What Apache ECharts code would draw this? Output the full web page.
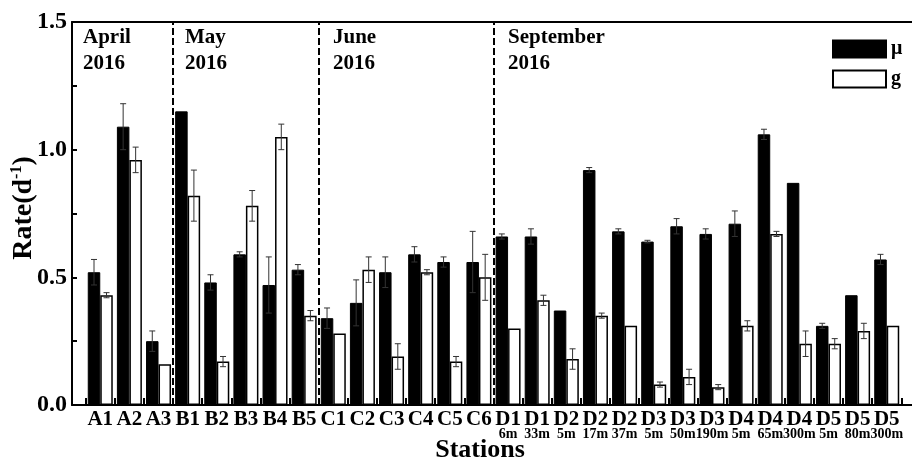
<!DOCTYPE html>
<html>
<head>
<meta charset="utf-8">
<script src="https://cdn.jsdelivr.net/npm/echarts@6/dist/echarts.min.js"></script>
<style>
  html, body { margin: 0; padding: 0; background: #fff; }
  #chart { width: 912px; height: 460px; }
</style>
</head>
<body>
<div id="chart"></div>
<script>
// Station names and sampling depths
const stations = ['A1','A2','A3','B1','B2','B3','B4','B5','C1','C2','C3','C4','C5','C6',
  'D1','D1','D2','D2','D2','D3','D3','D3','D4','D4','D4','D5','D5','D5'];
const depths = ['','','','','','','','','','','','','','',
  '6m','33m','5m','17m','37m','5m','50m','190m','5m','65m','300m','5m','80m','300m'];

// Growth rate (μ) and grazing rate (g), d^-1, with standard deviations
const muRate = [0.52,1.09,0.25,1.15,0.48,0.59,0.47,0.53,0.34,0.40,0.52,0.59,0.56,0.56,
  0.66,0.66,0.37,0.92,0.68,0.64,0.70,0.67,0.71,1.06,0.87,0.31,0.43,0.57];
const muErr = [0.05,0.09,0.04,0,0.03,0.01,0.11,0.02,0.04,0.09,0.06,0.03,0.02,0.12,
  0.01,0.03,0,0.01,0.01,0.005,0.03,0.02,0.05,0.02,0,0.01,0,0.02];
const gRate = [0.43,0.96,0.16,0.82,0.17,0.78,1.05,0.35,0.28,0.53,0.19,0.52,0.17,0.50,
  0.30,0.41,0.18,0.35,0.31,0.08,0.11,0.07,0.31,0.67,0.24,0.24,0.29,0.31];
const gErr = [0.01,0.05,0,0.10,0.02,0.06,0.05,0.02,0,0.05,0.05,0.01,0.02,0.09,
  0,0.02,0.04,0.01,0,0.01,0.03,0.01,0.02,0.01,0.05,0.02,0.03,0];

// Cruise boundaries (in category units) and month labels
const cruiseBreaks = [3, 8, 14];
const cruiseLabels = ['April\n2016', 'May\n2016', 'June\n2016', 'September\n2016'];
const yTicks = [0, 0.5, 1.0, 1.5];

const SERIF = '"Liberation Serif", "Times New Roman", serif';
const BAR_W = 12.5;

const chart = echarts.init(document.getElementById('chart'));

function errorBars(values, errs, offset) {
  return {
    type: 'custom',
    xAxisIndex: 2,
    yAxisIndex: 1,
    z: 5,
    silent: true,
    data: values.map((v, i) => [i, v, errs[i]]),
    renderItem: function (params, api) {
      const i = api.value(0), v = api.value(1), e = api.value(2);
      if (!(e > 0)) return null;
      const hi = api.coord([i, v + e]);
      const lo = api.coord([i, v - e]);
      const x = hi[0] + offset;
      const cap = 3;
      const style = { stroke: '#333', lineWidth: 1 };
      return {
        type: 'group',
        children: [
          { type: 'line', shape: { x1: x, y1: hi[1], x2: x, y2: lo[1] }, style: style },
          { type: 'line', shape: { x1: x - cap, y1: hi[1], x2: x + cap, y2: hi[1] }, style: style },
          { type: 'line', shape: { x1: x - cap, y1: lo[1], x2: x + cap, y2: lo[1] }, style: style }
        ]
      };
    }
  };
}

const labelPos = [83, 185, 333, 508];

// Month annotations and axis titles
const texts = cruiseLabels.map((t, i) => ({
  type: 'text',
  x: labelPos[i],
  y: 25,
  z: 10,
  style: { text: t, font: 'bold 21px ' + SERIF, lineHeight: 26, fill: '#000' }
}));
texts.push({
  type: 'text',
  x: 480, y: 450, z: 10,
  style: { text: 'Stations', font: 'bold 26px ' + SERIF, fill: '#000',
           align: 'center', verticalAlign: 'middle' }
});
texts.push({
  type: 'text',
  x: 24, y: 208, z: 10,
  rotation: Math.PI / 2,
  style: {
    text: '{a|Rate(d}{s|-1}{a|)}',
    align: 'center', verticalAlign: 'middle',
    rich: {
      a: { font: 'bold 28px ' + SERIF, fill: '#000', lineHeight: 30 },
      s: { font: 'bold 16px ' + SERIF, fill: '#000', verticalAlign: 'top', lineHeight: 30 }
    }
  }
});

chart.setOption({
  animation: false,
  backgroundColor: '#fff',
  grid: [
    { left: 72, top: 22, right: -4, bottom: 55, outerBoundsMode: 'none', containLabel: false },
    { left: 85.7, top: 22, right: 10.7, bottom: 55, outerBoundsMode: 'none', containLabel: false }
  ],
  legend: {
    data: ['μ', 'g'],
    orient: 'vertical',
    left: 827,
    top: 34,
    itemWidth: 53,
    itemHeight: 17,
    itemGap: 10,
    icon: 'rect',
    textStyle: { fontFamily: SERIF, fontWeight: 'bold', fontSize: 20, color: '#000' }
  },
  xAxis: [
    { gridIndex: 0, type: 'value', min: 0, max: 1, position: 'bottom',
      axisLine: { lineStyle: { color: '#000', width: 2 } },
      axisTick: { show: false }, axisLabel: { show: false }, splitLine: { show: false } },
    { gridIndex: 0, type: 'value', min: 0, max: 1, position: 'top',
      axisLine: { lineStyle: { color: '#000', width: 2 } },
      axisTick: { show: false }, axisLabel: { show: false }, splitLine: { show: false } },
    { gridIndex: 1, type: 'category', data: stations,
      axisLine: { show: false },
      axisTick: { show: true, inside: true, length: 7, lineStyle: { color: '#000', width: 2 } },
      axisLabel: {
        interval: 0,
        margin: 5,
        formatter: function (val, idx) {
          return depths[idx] ? '{a|' + val + '}\n{b|' + depths[idx] + '}' : '{a|' + val + '}';
        },
        rich: {
          a: { fontFamily: SERIF, fontWeight: 'bold', fontSize: 21, lineHeight: 19, color: '#000' },
          b: { fontFamily: SERIF, fontWeight: 'bold', fontSize: 14, lineHeight: 11, color: '#000' }
        }
      }
    },
    { gridIndex: 1, type: 'value', min: 0, max: 28, show: false }
  ],
  yAxis: [
    { gridIndex: 0, type: 'value', min: 0, max: 1.5, interval: 0.25,
      axisLine: { show: true, lineStyle: { color: '#000', width: 2 } },
      axisTick: { show: true, inside: true, length: 5, lineStyle: { color: '#000', width: 2 } },
      axisLabel: {
        margin: 5,
        fontFamily: SERIF, fontWeight: 'bold', fontSize: 24, color: '#000',
        formatter: function (v) {
          return yTicks.some(t => Math.abs(t - v) < 1e-9) ? v.toFixed(1) : '';
        }
      },
      splitLine: { show: false }
    },
    { gridIndex: 1, type: 'value', min: 0, max: 1.5, show: false }
  ],
  graphic: texts,
  series: [
    { name: 'μ', type: 'bar', xAxisIndex: 2, yAxisIndex: 1, data: muRate,
      barWidth: BAR_W, barGap: '0%',
      itemStyle: { color: '#000', borderColor: '#000', borderWidth: 1 } },
    { name: 'g', type: 'bar', xAxisIndex: 2, yAxisIndex: 1, data: gRate,
      barWidth: BAR_W, barGap: '0%',
      itemStyle: { color: '#fff', borderColor: '#000', borderWidth: 1.5 } },
    errorBars(muRate, muErr, -BAR_W / 2),
    errorBars(gRate, gErr, BAR_W / 2),
    { type: 'line', xAxisIndex: 3, yAxisIndex: 1, data: [], silent: true,
      markLine: {
        silent: true,
        symbol: ['none', 'none'],
        label: { show: false },
        lineStyle: { color: '#000', type: [7, 3], width: 2 },
        data: cruiseBreaks.map(b => ({ xAxis: b }))
      } }
  ]
});
</script>
</body>
</html>
